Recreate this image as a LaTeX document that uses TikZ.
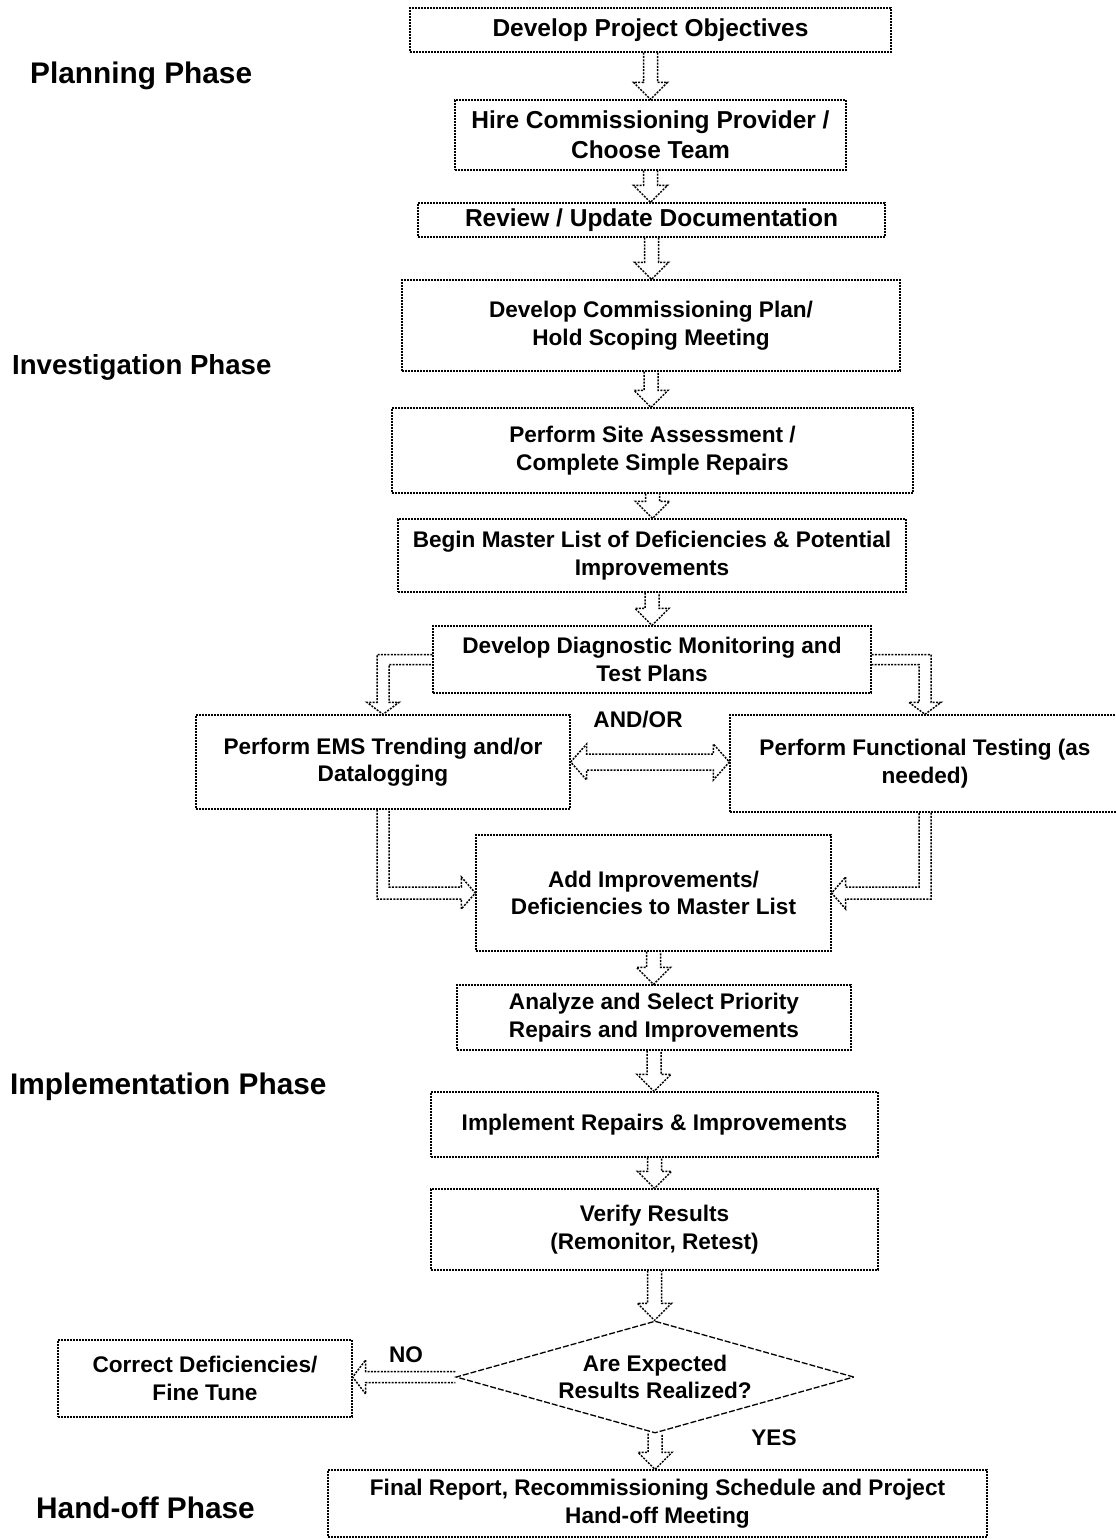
\documentclass[tikz,border=0pt]{standalone}
\usepackage{fontspec}
\setmainfont{Liberation Sans}
\usetikzlibrary{shapes.geometric,calc}
\newcommand\myvarrow[2]{%
  \draw[barrow] let \p1=(#1.south), \p2=(#2.north) in
    (\x1-7pt,\y1) -- (\x1-7pt,\y2+17pt) -- (\x1-17pt,\y2+17pt) -- (\x1,\y2)
    -- (\x1+17pt,\y2+17pt) -- (\x1+7pt,\y2+17pt) -- (\x1+7pt,\y1);}
\begin{document}
\begin{tikzpicture}[x=1pt,y=-1pt,
  boxline/.style={line width=1.3pt, dash pattern=on 1.6pt off 1.4pt},
  box/.style={draw, boxline, align=center, inner sep=0pt,
    font=\fontsize{22.6}{27.5}\selectfont\bfseries},
  bigbox/.style={box, font=\fontsize{24.5}{30}\selectfont\bfseries},
  dline/.style={line width=1.3pt, dash pattern=on 6pt off 2pt},
  barrow/.style={line width=1.5pt, dash pattern=on 2pt off 1.3pt, line join=miter},
  phase/.style={anchor=west, inner sep=0pt, font=\fontsize{29.8}{34}\selectfont\bfseries},
  lbl/.style={inner sep=0pt, font=\fontsize{22.6}{27.5}\selectfont\bfseries}]
\useasboundingbox (0,0) rectangle (1116,1539);

% phase labels
\node[phase] (p1) at (30,76) {Planning Phase};
\node[phase, font=\fontsize{27.6}{32}\selectfont\bfseries] (p2) at (12,367) {Investigation Phase};
\node[phase] (p3) at (10,1087) {Implementation Phase};
\node[phase] (p4) at (36,1508) {Hand-off Phase};

% boxes
\node[bigbox, minimum width=481pt, minimum height=44pt] (b1) at (650.5,30) {Develop Project Objectives};
\node[bigbox, minimum width=391pt, minimum height=70pt] (b2) at (650.5,135) {Hire Commissioning Provider /\\Choose Team};
\node[bigbox, minimum width=467pt, minimum height=34pt] (b3) at (651.5,220) {Review / Update Documentation};
\node[box, minimum width=498pt, minimum height=91pt] (b4) at (651,325.5) {Develop Commissioning Plan/\\Hold Scoping Meeting};
\node[box, minimum width=521pt, minimum height=85pt] (b5) at (652.5,450.5) {Perform Site Assessment /\\Complete Simple Repairs};
\node[box, minimum width=508pt, minimum height=73pt] (b6) at (652,555.5) {Begin Master List of Deficiencies \& Potential\\Improvements};
\node[box, minimum width=438pt, minimum height=67pt] (b7) at (652,659.5) {Develop Diagnostic Monitoring and\\Test Plans};
\node[box, minimum width=374pt, minimum height=94pt] (b8) at (383,762) {Perform EMS Trending and/or\\Datalogging};
\node[box, minimum width=390pt, minimum height=97pt] (b9) at (925,763.5) {Perform Functional Testing (as\\needed)};
\node[box, minimum width=355pt, minimum height=116pt] (b10) at (653.5,893) {Add Improvements/\\Deficiencies to Master List};
\node[box, minimum width=394pt, minimum height=65pt] (b11) at (654,1017.5) {Analyze and Select Priority\\Repairs and Improvements};
\node[box, minimum width=447pt, minimum height=65pt] (b12) at (654.5,1124.5) {Implement Repairs \& Improvements};
\node[box, minimum width=447pt, minimum height=81pt] (b13) at (654.5,1229.5) {Verify Results\\(Remonitor, Retest)};
\node[diamond, aspect=3.5, draw, dline, align=center, inner sep=0pt,
  minimum width=398pt, minimum height=112pt,
  font=\fontsize{22.6}{27.5}\selectfont\bfseries] (d) at (655,1377) {Are Expected\\Results Realized?};
\node[box, minimum width=294pt, minimum height=77pt] (b15) at (205,1378.5) {Correct Deficiencies/\\Fine Tune};
\node[box, minimum width=659pt, minimum height=67pt] (b16) at (657.5,1503.5) {Final Report, Recommissioning Schedule and Project\\Hand-off Meeting};

% labels
\node[lbl] (andor) at (638,720) {AND/OR};
\node[lbl] (no) at (406,1355) {NO};
\node[lbl] (yes) at (774,1438) {YES};

% vertical arrows
\myvarrow{b1}{b2}
\myvarrow{b2}{b3}
\myvarrow{b3}{b4}
\myvarrow{b4}{b5}
\myvarrow{b5}{b6}
\myvarrow{b6}{b7}
\myvarrow{b10}{b11}
\myvarrow{b11}{b12}
\myvarrow{b12}{b13}
\myvarrow{b13}{d}
\myvarrow{d}{b16}

% bent arrows from b7
\draw[barrow] let \p1=(b7.west), \p2=(b8.north) in
  (\x1,\y1+5pt) -- (\x2-6pt,\y1+5pt) -- (\x2-6pt,\y2+12pt) -- (\x2-16pt,\y2+12pt)
  -- (\x2,\y2) -- (\x2+16pt,\y2+12pt) -- (\x2+6pt,\y2+12pt) -- (\x2+6pt,\y1-5pt) -- (\x1,\y1-5pt);
\draw[barrow] let \p1=(b7.east), \p2=(b9.north) in
  (\x1,\y1+5pt) -- (\x2+6pt,\y1+5pt) -- (\x2+6pt,\y2+12pt) -- (\x2+16pt,\y2+12pt)
  -- (\x2,\y2) -- (\x2-16pt,\y2+12pt) -- (\x2-6pt,\y2+12pt) -- (\x2-6pt,\y1-5pt) -- (\x1,\y1-5pt);

% double arrow b8 <-> b9
\draw[barrow] let \p1=(b8.east), \p2=(b9.west) in
  (\x1,\y1) -- (\x1+16pt,\y1+18pt) -- (\x1+16pt,\y1+8pt) -- (\x2-16pt,\y1+8pt)
  -- (\x2-16pt,\y1+18pt) -- (\x2,\y1) -- (\x2-16pt,\y1-18pt) -- (\x2-16pt,\y1-8pt)
  -- (\x1+16pt,\y1-8pt) -- (\x1+16pt,\y1-18pt) -- cycle;

% bent arrows into b10
\draw[barrow] let \p1=(b8.south), \p2=(b10.west) in
  (\x1-6pt,\y1) -- (\x1-6pt,\y2-6pt) -- (\x2-14pt,\y2-6pt) -- (\x2-14pt,\y2-16pt)
  -- (\x2,\y2) -- (\x2-14pt,\y2+16pt) -- (\x2-14pt,\y2+6pt) -- (\x1+6pt,\y2+6pt) -- (\x1+6pt,\y1);
\draw[barrow] let \p1=(b9.south), \p2=(b10.east) in
  (\x1+6pt,\y1) -- (\x1+6pt,\y2-6pt) -- (\x2+14pt,\y2-6pt) -- (\x2+14pt,\y2-16pt)
  -- (\x2,\y2) -- (\x2+14pt,\y2+16pt) -- (\x2+14pt,\y2+6pt) -- (\x1-6pt,\y2+6pt) -- (\x1-6pt,\y1);

% NO arrow
\draw[barrow] let \p1=(d.west), \p2=(b15.east) in
  (\x1,\y1+5.5pt) -- (\x2+13pt,\y1+5.5pt) -- (\x2+13pt,\y1+17pt) -- (\x2,\y1)
  -- (\x2+13pt,\y1-17pt) -- (\x2+13pt,\y1-5.5pt) -- (\x1,\y1-5.5pt);
\end{tikzpicture}
\end{document}
